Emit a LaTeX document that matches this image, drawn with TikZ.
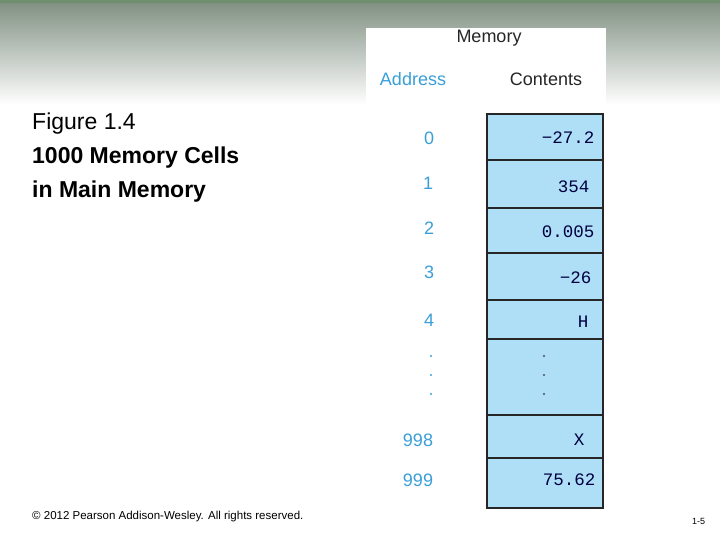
\documentclass[tikz,border=0pt]{standalone}
\usepackage{fontspec}
\setmainfont{Liberation Sans}
\setmonofont{Liberation Mono}
\definecolor{addr}{HTML}{3A9FD8}
\definecolor{cell}{HTML}{AEDFF7}
\definecolor{topg}{HTML}{7E8E80}
\definecolor{strip}{HTML}{6E8E6E}
\begin{document}
\begin{tikzpicture}[x=1pt,y=-1pt,
  addrtxt/.style={text=addr,font=\fontsize{18}{18}\selectfont},
  cont/.style={anchor=east,text=black!75!blue,font=\ttfamily\fontsize{17.5}{17}\selectfont},
  memcell/.style={draw=black!85,line width=1.8pt,fill=cell}]
\useasboundingbox (0,0) rectangle (720,540);
\fill[white] (0,0) rectangle (720,540);
\shade[top color=topg,bottom color=white] (0,0) rectangle (720,105);
\fill[strip] (0,0) rectangle (720,3);
\fill[white] (366,28) rectangle (606,540);
\node[anchor=center,font=\fontsize{18}{18}\selectfont,text=black!85] (mem) at (489,38) {Memory};
\node[addrtxt] (ah) at (413,79) {Address};
\node[font=\fontsize{18}{18}\selectfont,text=black!85] (ch) at (546,79) {Contents};
\foreach \n/\a/\b in {c0/114/160,c1/160/208,c2/208/253,c3/253/300,c4/300/339,cd/339/415,c998/415/458,c999/458/508}
  \draw[memcell] (487,\a) rectangle (603,\b) coordinate (\n);
\node[cont] (v0) at (598,138) {−27.2};
\node[cont] (v1) at (593,187) {354};
\node[cont] (v2) at (598,232) {0.005};
\node[cont] (v3) at (595,278) {−26};
\node[cont] (v4) at (592,322) {H};
\node[cont] (v998) at (588,440) {X};
\node[cont] (v999) at (599,480) {75.62};
\foreach \y in {356,375,394} {\fill[black!70] (544,\y) circle (1.1); \fill[addr] (431,\y) circle (1.1);}
\node[addrtxt] (a0) at (429,138) {0};
\node[addrtxt] (a1) at (428,183) {1};
\node[addrtxt] (a2) at (429,228) {2};
\node[addrtxt] (a3) at (429,272) {3};
\node[addrtxt] (a4) at (429,320) {4};
\node[addrtxt] (a998) at (418,440) {998};
\node[addrtxt] (a999) at (418,480) {999};
\node[anchor=north west,align=left,font=\fontsize{23}{34}\selectfont,inner sep=0] (title) at (32,113)
  {Figure 1.4\\\textbf{1000 Memory Cells}\\\textbf{in Main Memory}};
\node[anchor=west,font=\fontsize{11.5}{12}\selectfont,inner sep=0] (copy) at (32,517) {© 2012 Pearson Addison-Wesley. All rights reserved.};
\node[anchor=west,font=\fontsize{9}{9}\selectfont,inner sep=0] (pg) at (692,521) {1-5};
\end{tikzpicture}
\end{document}
